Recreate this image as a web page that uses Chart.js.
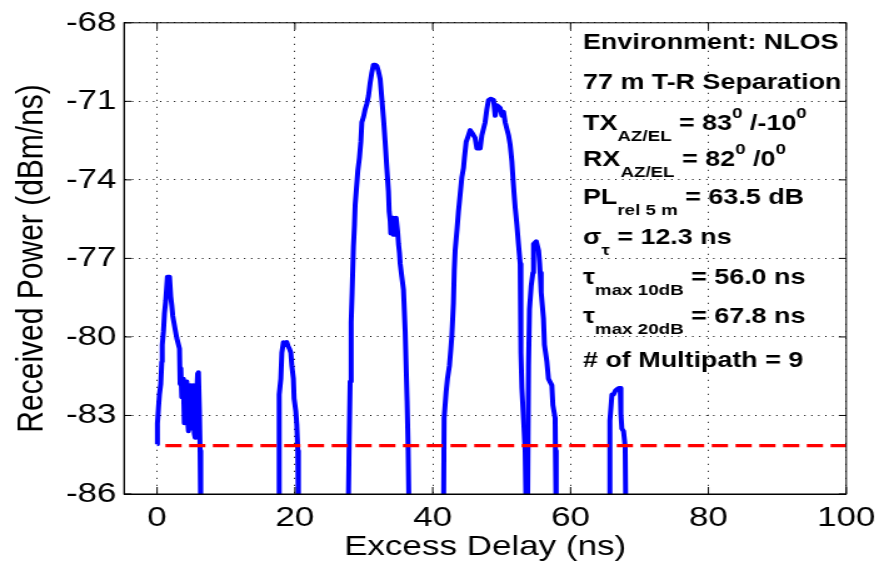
<!DOCTYPE html>
<html>
<head>
<meta charset="utf-8">
<title>Power delay profile - NLOS 77 m</title>
<script src="https://cdn.jsdelivr.net/npm/chart.js@4.4.1/dist/chart.umd.min.js"></script>
<style>
  html, body { margin: 0; padding: 0; background: #fff; }
</style>
</head>
<body>
<!-- drawn on a 711 px wide canvas and stretched to 889, like the original figure -->
<canvas id="pdp" width="711" height="568" style="width:889px;height:568px"></canvas>
<script>
// axis ticks
const xTicks = [0, 20, 40, 60, 80, 100];
const yTicks = [-86, -83, -80, -77, -74, -71, -68];

// noise threshold (dBm/ns), dashed red
const thresholdDelay = [1.2, 100];
const thresholdPower = -84.15;

// multipath clusters, [excess delay ns, received power dBm/ns]
const cluster1 = [[0.0, -84.1], [0.05, -83.3], [0.2, -82.7], [0.34, -82.2], [0.53, -81.8], [0.68, -80.95], [0.75, -80.3],
  [0.92, -79.8], [1.07, -79.1], [1.26, -78.6], [1.5, -77.7], [1.8, -77.7], [1.98, -78.45], [2.13, -78.8], [2.27, -79.2],
  [2.61, -79.7], [2.86, -80.05], [3.25, -80.45], [3.34, -81.8], [3.45, -81.2], [3.58, -82.3], [3.7, -81.6], [3.82, -81.85],
  [3.95, -83.3], [4.06, -83.1], [4.18, -81.9], [4.31, -81.7], [4.43, -83.2], [4.55, -83.6], [4.67, -82.0], [4.79, -81.85],
  [4.91, -83.5], [5.03, -83.3], [5.15, -81.9], [5.28, -81.85], [5.4, -83.7], [5.52, -83.85], [5.64, -82.3], [5.76, -82.1],
  [5.88, -81.4], [6.0, -81.35], [6.14, -82.8], [6.24, -84.35], [6.34, -87]];
const cluster2 = [[17.71, -87], [17.72, -82.2], [17.95, -81.6], [18.1, -80.6], [18.33, -80.2], [18.6, -80.3], [18.82, -80.2],
  [19.0, -80.35], [19.2, -80.45], [19.4, -80.6], [19.55, -81.1], [19.78, -81.6], [19.88, -82.35], [20.13, -82.85],
  [20.27, -83.35], [20.42, -84.35], [20.51, -87]];
const cluster3 = [[27.72, -87], [27.87, -83.95], [28.01, -81.7], [28.16, -79.45], [28.3, -78.3], [28.49, -76.55], [28.64, -75.7],
  [28.74, -74.95], [28.98, -74.15], [29.13, -73.65], [29.36, -73.15], [29.56, -72.55], [29.71, -71.8], [29.95, -71.6],
  [30.19, -71.3], [30.43, -71.1], [30.67, -70.8], [30.91, -70.3], [31.16, -69.9], [31.4, -69.6], [31.65, -69.6], [31.89, -69.65],
  [32.12, -69.85], [32.37, -70.15], [32.61, -70.9], [32.85, -71.65], [33.09, -72.55], [33.34, -73.55], [33.57, -74.45],
  [33.67, -75.2], [33.82, -75.55], [33.91, -76.05], [34.05, -75.5], [34.2, -75.45], [34.3, -76.1], [34.4, -76.1], [34.55, -75.5],
  [34.69, -75.45], [34.89, -75.95], [35.03, -76.45], [35.17, -76.8], [35.27, -77.2], [35.51, -77.7], [35.75, -78.2],
  [36.0, -79.8], [36.28, -82.45], [36.43, -84.35], [36.57, -87]];
const cluster4 = [[41.56, -87], [41.65, -83.1], [41.94, -82.1], [42.13, -81.6], [42.42, -81.1], [42.63, -80.45], [42.77, -79.95],
  [43.0, -78.7], [43.12, -77.45], [43.25, -76.7], [43.5, -75.95], [43.73, -75.2], [43.98, -74.55], [44.22, -73.9],
  [44.46, -73.55], [44.6, -73.15], [44.85, -72.55], [45.18, -72.3], [45.43, -72.1], [45.81, -72.25], [46.15, -72.4],
  [46.4, -72.8], [46.88, -72.8], [47.12, -72.3], [47.36, -72.05], [47.6, -71.8], [47.85, -71.3], [48.09, -70.95],
  [48.43, -70.9], [48.82, -70.95], [49.06, -71.55], [49.3, -71.15], [49.78, -71.25], [50.03, -71.55], [50.27, -71.4],
  [50.51, -71.8], [50.75, -72.05], [51.0, -72.3], [51.23, -72.65], [51.48, -73.3], [51.63, -73.9], [51.81, -74.55],
  [51.96, -75.05], [52.2, -75.7], [52.44, -76.45], [52.69, -77.2], [52.75, -78.45], [52.83, -80.6], [52.93, -81.95],
  [53.17, -83.1], [53.41, -84.35], [53.56, -87]];
const cluster5 = [[53.75, -87], [53.9, -81.1], [54.04, -78.95], [54.28, -78.05], [54.53, -77.55], [54.63, -76.45],
  [55.02, -76.35], [55.36, -76.7], [55.51, -77.2], [55.59, -77.55], [55.73, -78.3], [56.07, -79.3], [56.21, -80.3],
  [56.56, -80.95], [56.79, -81.6], [57.28, -81.85], [57.43, -82.6], [57.76, -83.1], [57.8, -84.35], [57.91, -87]];
const cluster6 = [[65.68, -87], [65.7, -83.2], [66.0, -82.2], [66.23, -82.2], [66.5, -82.05], [66.72, -82.0], [67.0, -81.95],
  [67.2, -81.95], [67.3, -82.95], [67.44, -83.5], [67.68, -83.6], [67.92, -84.2], [68.02, -87]];

// figure annotation values
const environment = 'NLOS';
const separationM = 77;
const txAzEl = [83, -10];
const rxAzEl = [82, 0];
const pathLossDb = 63.5;
const rmsDelayNs = 12.3;
const maxDelay10dB = 56.0;
const maxDelay20dB = 67.8;
const multipathCount = 9;

const SX = 711 / 889; // real px -> canvas px horizontally
const FONT = '"Liberation Sans", Arial, Helvetica, sans-serif';

const noteLines = [
    [[`Environment: ${environment}`]],
    [[`${separationM} m T-R Separation`]],
    [['TX'], ['AZ/EL', 'sub'], [` = ${txAzEl[0]}`], ['0', 'sup'], [` /${txAzEl[1]}`], ['0', 'sup']],
    [['RX'], ['AZ/EL', 'sub'], [` = ${rxAzEl[0]}`], ['0', 'sup'], [` /${rxAzEl[1]}`], ['0', 'sup']],
    [['PL'], ['rel 5 m', 'sub'], [` = ${pathLossDb.toFixed(1)} dB`]],
    [['σ'], ['τ', 'sub'], [` = ${rmsDelayNs.toFixed(1)} ns`]],
    [['τ'], ['max 10dB', 'sub'], [` = ${maxDelay10dB.toFixed(1)} ns`]],
    [['τ'], ['max 20dB', 'sub'], [` = ${maxDelay20dB.toFixed(1)} ns`]],
    [[`# of Multipath = ${multipathCount}`]]
];
const noteBaselines = [49, 89, 130, 166, 204, 244, 284, 323, 367];

// box, inward tick marks and the text block
const framePlugin = {
    id: 'frame',
    afterDraw(chart) {
        const {ctx, chartArea: a, scales: {x, y}} = chart;
        ctx.save();
        ctx.strokeStyle = '#000';
        ctx.lineWidth = 1;
        ctx.strokeRect(a.left, a.top, a.right - a.left, a.bottom - a.top);
        ctx.beginPath();
        xTicks.forEach(v => {
            const px = x.getPixelForValue(v);
            ctx.moveTo(px, a.bottom); ctx.lineTo(px, a.bottom - 7);
            ctx.moveTo(px, a.top); ctx.lineTo(px, a.top + 7);
        });
        yTicks.forEach(v => {
            const py = y.getPixelForValue(v);
            ctx.moveTo(a.left, py); ctx.lineTo(a.left + 6, py);
            ctx.moveTo(a.right, py); ctx.lineTo(a.right - 6, py);
        });
        ctx.stroke();

        ctx.fillStyle = '#000';
        ctx.textBaseline = 'alphabetic';
        ctx.textAlign = 'left';
        noteLines.forEach((parts, i) => {
            let tx = 583 * SX;
            const ty = noteBaselines[i];
            parts.forEach(([text, kind]) => {
                ctx.font = kind ? `bold 15px ${FONT}` : `bold 21.5px ${FONT}`;
                const dy = kind === 'sub' ? 11 : kind === 'sup' ? -12 : 0;
                ctx.fillText(text, tx, ty + dy);
                tx += ctx.measureText(text).width;
            });
        });
        ctx.restore();
    }
};

const toPoints = arr => arr.map(([x, y]) => ({x, y}));
const blue = c => ({
    data: toPoints(c),
    borderColor: 'rgb(0,0,255)',
    borderWidth: 4,
    borderJoinStyle: 'round',
    pointRadius: 0,
    tension: 0,
    clip: 0
});

new Chart(document.getElementById('pdp'), {
    type: 'line',
    data: {
        datasets: [
            {
                data: thresholdDelay.map(d => ({x: d, y: thresholdPower})),
                borderColor: 'rgb(255,0,0)',
                borderWidth: 3.2,
                borderDash: [13, 6],
                pointRadius: 0,
                clip: 0
            },
            blue(cluster1), blue(cluster2), blue(cluster3),
            blue(cluster4), blue(cluster5), blue(cluster6)
        ]
    },
    options: {
        responsive: false,
        animation: false,
        devicePixelRatio: 1,
        layout: {autoPadding: false, padding: {left: 0, right: 34.2, top: 16, bottom: 0}},
        plugins: {legend: {display: false}, tooltip: {enabled: false}},
        scales: {
            x: {
                type: 'linear',
                min: -4.8,
                max: 100,
                afterBuildTicks: s => { s.ticks = xTicks.map(v => ({value: v})); },
                afterFit: s => { s.height = 74; },
                ticks: {color: '#000', font: {family: FONT, size: 28}, padding: 7, maxRotation: 0, autoSkip: false},
                grid: {color: '#000', lineWidth: 1, drawTicks: false},
                border: {color: '#000', width: 1, dash: [1, 6]},
                title: {display: true, text: 'Excess Delay (ns)', color: '#000',
                    font: {family: FONT, size: 28}, padding: {top: 0, bottom: 4}}
            },
            y: {
                type: 'linear',
                min: -86,
                max: -68,
                afterBuildTicks: s => { s.ticks = yTicks.map(v => ({value: v})); },
                afterFit: s => { s.width = 124 * SX; },
                ticks: {color: '#000', font: {family: FONT, size: 28}, padding: 6, callback: v => String(v)},
                grid: {color: '#000', lineWidth: 1, drawTicks: false},
                border: {color: '#000', width: 1, dash: [1, 4.6]},
                title: {display: true, text: 'Received Power (dBm/ns)', color: '#000',
                    font: {family: FONT, size: 30}, padding: {top: 8, bottom: 0}}
            }
        }
    },
    plugins: [framePlugin]
});
</script>
</body>
</html>
